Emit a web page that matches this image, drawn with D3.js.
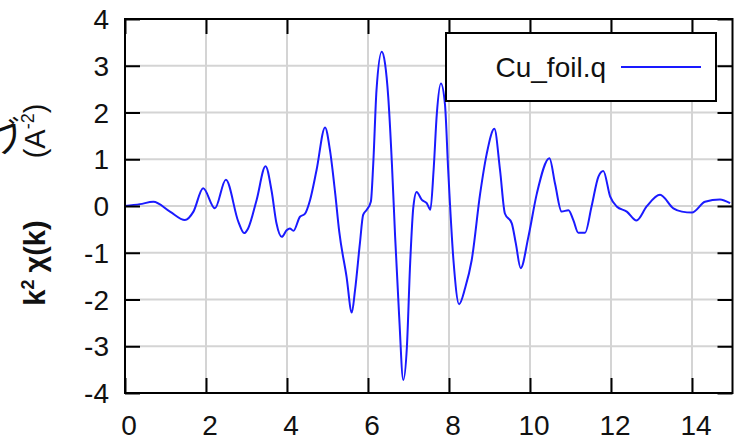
<!DOCTYPE html>
<html><head><meta charset="utf-8">
<script src="https://cdn.jsdelivr.net/npm/d3@7"></script>
<style>
html,body{margin:0;padding:0;background:#fff;}
svg{display:block;font-family:"Liberation Sans",Arial,sans-serif;}
</style></head>
<body><svg id="c" width="734" height="442"></svg>
<script>
const seriesName = "Cu_foil.q";
const kValues = [0,0.37,0.70,1.11,1.48,1.69,1.93,2.22,2.49,2.80,2.94,3.04,3.25,3.47,3.62,3.74,3.87,3.99,4.07,4.16,4.32,4.44,4.57,4.73,4.94,5.06,5.19,5.29,5.47,5.60,5.68,5.80,5.88,5.97,6.07,6.13,6.21,6.34,6.42,6.50,6.59,6.67,6.77,6.87,6.96,7.04,7.12,7.20,7.33,7.45,7.54,7.62,7.70,7.80,7.90,7.98,8.11,8.25,8.40,8.56,8.77,8.93,9.12,9.26,9.38,9.55,9.65,9.77,9.96,10.17,10.48,10.62,10.78,10.95,11.07,11.19,11.36,11.52,11.69,11.81,11.98,12.14,12.39,12.63,12.88,13.21,13.54,13.75,14.0,14.32,14.69,14.94];
const chiValues = [0,0.04,0.09,-0.12,-0.30,-0.12,0.38,-0.05,0.56,-0.34,-0.58,-0.48,0.13,0.85,0.32,-0.37,-0.66,-0.52,-0.48,-0.53,-0.23,-0.17,0.13,0.77,1.68,1.20,0.27,-0.55,-1.51,-2.28,-1.80,-0.80,-0.19,-0.08,0.09,0.91,2.48,3.30,3.05,2.33,0.91,-0.66,-2.37,-3.72,-3.02,-1.24,-0.02,0.30,0.13,0.06,-0.08,0.77,1.98,2.62,2.18,0.77,-1.16,-2.10,-1.75,-1.16,0.27,1.11,1.65,0.77,-0.16,-0.37,-0.80,-1.33,-0.66,0.27,1.02,0.47,-0.12,-0.09,-0.30,-0.57,-0.57,-0.01,0.63,0.75,0.20,-0.01,-0.12,-0.31,-0.01,0.24,-0.05,-0.12,-0.14,0.09,0.14,0.06];
const xTicks = [0,2,4,6,8,10,12,14];
const yTicks = [-4,-3,-2,-1,0,1,2,3,4];
const xDomain = [0,15];
const yDomain = [-4,4];

const svg = d3.select("#c");
const L=125, T=19, R=732.5, B=393;
const x = d3.scaleLinear().domain(xDomain).range([L,R]);
const y = d3.scaleLinear().domain(yDomain).range([B,T]);
const data = kValues.map((k,i)=>({k, v: chiValues[i]}));

// grid
const g = svg.append("g");
g.selectAll(".gx").data(xTicks.filter(d=>d>xDomain[0])).join("line")
 .attr("x1",d=>x(d)).attr("x2",d=>x(d)).attr("y1",T).attr("y2",B)
 .attr("stroke","#d4d4d4").attr("stroke-width",2);
g.selectAll(".gy").data(yTicks.filter(d=>d>yDomain[0]&&d<yDomain[1])).join("line")
 .attr("y1",d=>y(d)).attr("y2",d=>y(d)).attr("x1",L).attr("x2",R)
 .attr("stroke","#d4d4d4").attr("stroke-width",2);

// curve
svg.append("path").datum(data)
 .attr("d", d3.line().x(d=>x(d.k)).y(d=>y(d.v)).curve(d3.curveMonotoneX))
 .attr("fill","none").attr("stroke","#1a1aff").attr("stroke-width",2);

// inward ticks via axes
const tl = 15;
const axB = d3.axisBottom(x).tickValues(xTicks).tickSize(-tl).tickFormat("");
const axT = d3.axisTop(x).tickValues(xTicks).tickSize(-tl).tickFormat("");
const axL = d3.axisLeft(y).tickValues(yTicks).tickSize(-tl).tickFormat("");
const axR = d3.axisRight(y).tickValues(yTicks).tickSize(-tl).tickFormat("");
[[axB,`translate(0,${B})`],[axT,`translate(0,${T})`],[axL,`translate(${L},0)`],[axR,`translate(${R},0)`]].forEach(([a,t])=>{
  const gg = svg.append("g").attr("transform",t).call(a);
  gg.select(".domain").remove();
  gg.selectAll("line").attr("stroke","#000").attr("stroke-width",2);
});
svg.append("rect").attr("x",L).attr("y",T).attr("width",R-L).attr("height",B-T)
 .attr("fill","none").attr("stroke","#000").attr("stroke-width",2);

// tick labels
const fs = 28;
svg.selectAll(".xl").data(xTicks).join("text")
 .attr("x",d=>x(d)+4).attr("y",435).attr("text-anchor","middle")
 .attr("font-size",fs).attr("fill","#111").text(d=>d);
svg.selectAll(".yl").data(yTicks).join("text")
 .attr("x",109).attr("y",d=>y(d)).attr("dy","0.36em").attr("text-anchor","end")
 .attr("font-size",fs).attr("fill","#111").text(d=>d);

// y label (two parts)
const yl1 = svg.append("text").attr("transform","translate(45,263) rotate(-90)")
 .attr("text-anchor","middle").attr("font-size",29).attr("font-weight","bold").attr("fill","#111");
yl1.append("tspan").text("k");
yl1.append("tspan").attr("font-size",18).attr("dy",-11).text("2");
yl1.append("tspan").attr("dy",11).attr("dx",7).text("χ(k)");
const yl2 = svg.append("text").attr("transform","translate(45,131) rotate(-90)")
 .attr("text-anchor","middle").attr("font-size",29).attr("fill","#111");
yl2.append("tspan").text("(A");
yl2.append("tspan").attr("font-size",18).attr("dy",-11).text("-2");
yl2.append("tspan").attr("dy",11).text(")");

// cut-off character at left (partly outside the page, as in the reference)
svg.append("text").attr("x",-12).attr("y",152).attr("font-size",36)
 .attr("font-family","Noto Sans CJK JP").attr("fill","#111")
 .attr("transform","rotate(-20,4,135)").text("ブ");

// legend
const lg = svg.append("g");
lg.append("rect").attr("x",446).attr("y",33).attr("width",270).attr("height",68)
 .attr("fill","#fff").attr("stroke","#000").attr("stroke-width",2);
lg.append("text").attr("x",606).attr("y",67).attr("dy","0.36em").attr("text-anchor","end")
 .attr("font-size",fs).attr("fill","#111").text(seriesName);
lg.append("line").attr("x1",621).attr("x2",701).attr("y1",67).attr("y2",67)
 .attr("stroke","#1a1aff").attr("stroke-width",2);
</script></body></html>
